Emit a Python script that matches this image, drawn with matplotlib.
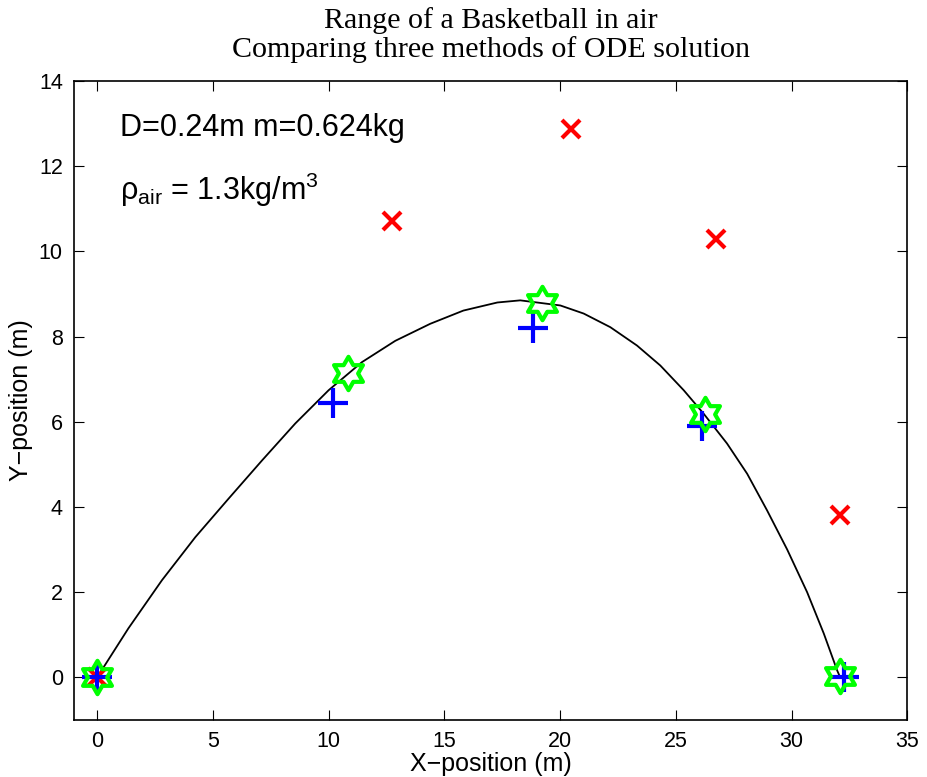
import numpy as np
import matplotlib
matplotlib.use("Agg")
import matplotlib.pyplot as plt
from matplotlib.path import Path

# trajectory
curve_x = [0.0, 0.2, 1.35, 2.8, 4.24, 5.67, 7.12, 8.56, 10.0, 11.44, 12.88, 14.39,
           15.82, 17.29, 18.28, 20.01, 21.02, 22.17, 23.32, 24.33, 25.34, 26.2,
           27.21, 28.08, 28.94, 29.81, 30.67, 31.39, 31.97, 32.1]
curve_y = [0.0, 0.17, 1.15, 2.28, 3.29, 4.19, 5.09, 5.96, 6.74, 7.40, 7.90, 8.30,
           8.61, 8.80, 8.85, 8.73, 8.54, 8.22, 7.79, 7.32, 6.74, 6.19,
           5.49, 4.78, 3.92, 3.00, 2.00, 1.03, 0.16, 0.0]

# three ODE methods
euler_x = [0.0, 12.73, 20.48, 26.75, 32.08]
euler_y = [0.0, 10.72, 12.87, 10.30, 3.80]
heun_x = [0.0, 10.2, 18.83, 26.15, 32.25]
heun_y = [0.0, 6.43, 8.19, 5.90, 0.0]
rk_x = [0.0, 10.82, 19.22, 26.28, 32.1]
rk_y = [0.0, 7.14, 8.78, 6.18, 0.03]

# hexagram (star of David) marker
ang_out = np.deg2rad(90 + 60 * np.arange(6))
ang_in = ang_out + np.deg2rad(30)
r_in = 1 / np.sqrt(3)
verts = []
for a, b in zip(ang_out, ang_in):
    verts.append((np.cos(a), np.sin(a)))
    verts.append((r_in * np.cos(b), r_in * np.sin(b)))
verts.append(verts[0])
codes = [Path.MOVETO] + [Path.LINETO] * 11 + [Path.CLOSEPOLY]
hexagram = Path(verts, codes)

sans = ["Liberation Sans", "DejaVu Sans"]

fig = plt.figure(figsize=(9.27, 7.77), dpi=100)
ax = fig.add_axes([0.0798, 0.0734, 0.899, 0.8224])

ax.plot(curve_x, curve_y, color="black", lw=1.3, solid_joinstyle="round")
ax.plot(euler_x, euler_y, ls="none", marker="x", ms=13, mew=3, color="red")
ax.plot(heun_x, heun_y, ls="none", marker="+", ms=22, mew=3, color="blue")
ax.plot(rk_x, rk_y, ls="none", marker=hexagram, ms=24, mew=3,
        markeredgecolor="#00ff00", markerfacecolor="none")

ax.set_xlim(-1, 35)
ax.set_ylim(-1, 14)
ax.set_xticks(range(0, 36, 5))
ax.set_yticks(range(0, 15, 2))
ax.tick_params(direction="in", length=7, top=True, right=True, labelsize=15.5,
               pad=8)
for lab in ax.get_xticklabels() + ax.get_yticklabels():
    lab.set_family(sans)
for s in ax.spines.values():
    s.set_linewidth(1.2)

ax.set_xlabel("X\u2212position (m)", fontsize=18, family=sans, labelpad=0)
ax.set_ylabel("Y\u2212position (m)", fontsize=18, family=sans, labelpad=4)
ax.set_title("Range of a Basketball in air\nComparing three methods of ODE solution",
             fontsize=21.6, family="Liberation Serif", linespacing=1.12, pad=17)

ax.text(1.0, 12.9, "D=0.24m m=0.624kg", fontsize=22, family=sans,
        va="center")
ax.text(1.0, 11.45, "\u03c1$_{\\mathregular{air}}$ = 1.3kg/m$^{\\mathregular{3}}$",
        fontsize=22, family=sans, va="center")

fig.savefig("out.png", dpi=100)
